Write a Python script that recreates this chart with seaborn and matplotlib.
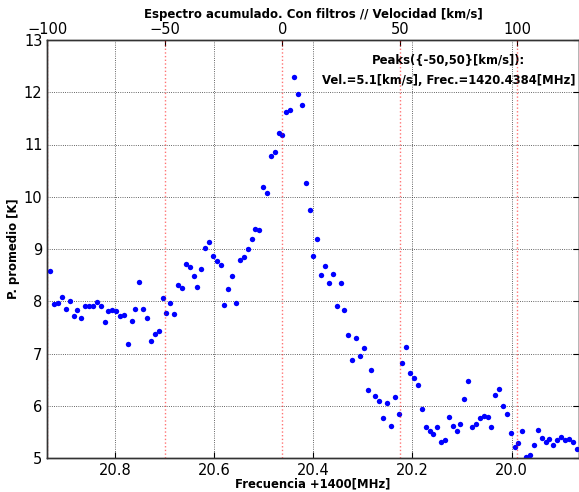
import numpy as np
import pandas as pd
import matplotlib
matplotlib.use("Agg")
import matplotlib.pyplot as plt
import seaborn as sns

# Frequency offsets (MHz, +1400)
freq = [20.9298, 20.9220, 20.9142, 20.9064, 20.8986, 20.8908, 20.8830, 20.8752, 20.8674, 20.8596,
        20.8518, 20.8440, 20.8362, 20.8284, 20.8206, 20.8128, 20.8050, 20.7972, 20.7894, 20.7816,
        20.7738, 20.7660, 20.7582, 20.7504, 20.7426, 20.7348, 20.7270, 20.7192, 20.7114, 20.7036,
        20.6958, 20.6880, 20.6802, 20.6724, 20.6646, 20.6568, 20.6490, 20.6412, 20.6334, 20.6256,
        20.6178, 20.6100, 20.6022, 20.5944, 20.5866, 20.5788, 20.5710, 20.5632, 20.5554, 20.5476,
        20.5398, 20.5320, 20.5242, 20.5164, 20.5086, 20.5008, 20.4930, 20.4852, 20.4774, 20.4696,
        20.4618, 20.4540, 20.4462, 20.4384, 20.4306, 20.4228, 20.4150, 20.4072, 20.3994, 20.3916,
        20.3838, 20.3760, 20.3682, 20.3604, 20.3526, 20.3448, 20.3370, 20.3292, 20.3214, 20.3136,
        20.3058, 20.2980, 20.2902, 20.2824, 20.2746, 20.2668, 20.2590, 20.2512, 20.2434, 20.2356,
        20.2278, 20.2200, 20.2122, 20.2044, 20.1966, 20.1888, 20.1810, 20.1732, 20.1654, 20.1576,
        20.1498, 20.1420, 20.1342, 20.1264, 20.1186, 20.1108, 20.1030, 20.0952, 20.0874, 20.0796,
        20.0718, 20.0640, 20.0562, 20.0484, 20.0406, 20.0328, 20.0250, 20.0172, 20.0094, 20.0016,
        19.9938, 19.9860, 19.9782, 19.9704, 19.9626, 19.9548, 19.9470, 19.9392, 19.9314, 19.9236,
        19.9158, 19.9080, 19.9002, 19.8924, 19.8846, 19.8768, 19.8690]

# Average power (K)
power = [8.58, 7.95, 7.97, 8.09, 7.86, 8.00, 7.71, 7.83, 7.67, 7.91,
         7.90, 7.90, 7.98, 7.91, 7.60, 7.81, 7.83, 7.82, 7.71, 7.74,
         7.19, 7.62, 7.86, 8.37, 7.85, 7.67, 7.24, 7.37, 7.44, 8.06,
         7.78, 7.97, 7.76, 8.32, 8.25, 8.71, 8.66, 8.48, 8.28, 8.62,
         9.01, 9.13, 8.87, 8.77, 8.69, 7.93, 8.23, 8.48, 7.97, 8.79,
         8.85, 9.00, 9.19, 9.38, 9.36, 10.18, 10.08, 10.78, 10.85, 11.22,
         11.19, 11.62, 11.66, 12.29, 11.96, 11.76, 10.26, 9.75, 8.87, 9.20,
         8.50, 8.67, 8.34, 8.52, 7.91, 8.35, 7.83, 7.36, 6.87, 7.29,
         6.95, 7.10, 6.30, 6.69, 6.18, 6.10, 5.77, 6.06, 5.62, 6.16,
         5.85, 6.82, 7.13, 6.63, 6.54, 6.40, 5.94, 5.60, 5.52, 5.45,
         5.59, 5.30, 5.34, 5.79, 5.61, 5.52, 5.66, 6.12, 6.48, 5.59,
         5.66, 5.76, 5.81, 5.79, 5.59, 6.20, 6.33, 6.00, 5.84, 5.48,
         5.22, 5.28, 5.52, 5.01, 5.05, 5.24, 5.54, 5.38, 5.30, 5.36,
         5.25, 5.35, 5.40, 5.34, 5.36, 5.30, 5.17]

vel_ticks = [-100, -50, 0, 50, 100]
freq_ticks = [20.8, 20.6, 20.4, 20.2, 20.0]
y_ticks = [5, 6, 7, 8, 9, 10, 11, 12, 13]
F0 = 1420.4626   # reference frequency for velocity axis (MHz)
C_KMS = 299792.458

def f2v(f):
    return C_KMS * (F0 - (1400.0 + np.asarray(f))) / F0

df = pd.DataFrame({"freq": freq, "power": power})

sns.set_style("white")
plt.rcParams["font.family"] = ["DejaVu Sans"]
plt.rcParams.update({"text.color": "black", "axes.labelcolor": "black",
                     "xtick.color": "black", "ytick.color": "black"})

fig = plt.figure(figsize=(5.79, 4.92), dpi=100)
ax = fig.add_axes([47.3 / 579, 1 - 458 / 492, (578.5 - 47.3) / 579, (458 - 40) / 492])

sns.scatterplot(data=df, x="freq", y="power", ax=ax, color="#0000ff",
                s=15, linewidth=0, zorder=3)

xlim = (20.936, 19.865)
ax.set_xlim(xlim)
ax.set_ylim(5, 13)
ax.set_xticks(freq_ticks)
ax.set_xticklabels([f"{t:.1f}" for t in freq_ticks])
ax.set_yticks(y_ticks)
ax.grid(True, color="#333333", linestyle=":", linewidth=0.6)
ax.tick_params(axis="both", labelsize=10.5, direction="in", length=4,
               top=False, right=True)
ax.set_xlabel("Frecuencia +1400[MHz]", fontsize=8.4, fontweight="bold", labelpad=0)
ax.set_ylabel("P. promedio [K]", fontsize=8.4, fontweight="bold", labelpad=3)

ax2 = ax.twiny()
ax2.set_xlim(f2v(xlim[0]), f2v(xlim[1]))
ax2.set_xticks(vel_ticks)
ax2.tick_params(axis="x", labelsize=10.5, direction="in", length=4, pad=2)
for v in vel_ticks:
    ax2.axvline(v, color="red", linestyle=":", linewidth=1.0, alpha=0.55, zorder=1)
ax2.set_xlabel("Espectro acumulado. Con filtros // Velocidad [km/s]",
               fontsize=8.5, fontweight="bold", labelpad=3)

for a in (ax, ax2):
    for sp in a.spines.values():
        sp.set_color("#333333")
        sp.set_linewidth(1.0)

ax.text(0.756, 0.950, "Peaks({-50,50}[km/s]):", transform=ax.transAxes,
        ha="center", va="center", fontsize=8.4, fontweight="bold")
ax.text(0.756, 0.903, "Vel.=5.1[km/s], Frec.=1420.4384[MHz]", transform=ax.transAxes,
        ha="center", va="center", fontsize=8.4, fontweight="bold")

fig.savefig("out.png", dpi=100)
